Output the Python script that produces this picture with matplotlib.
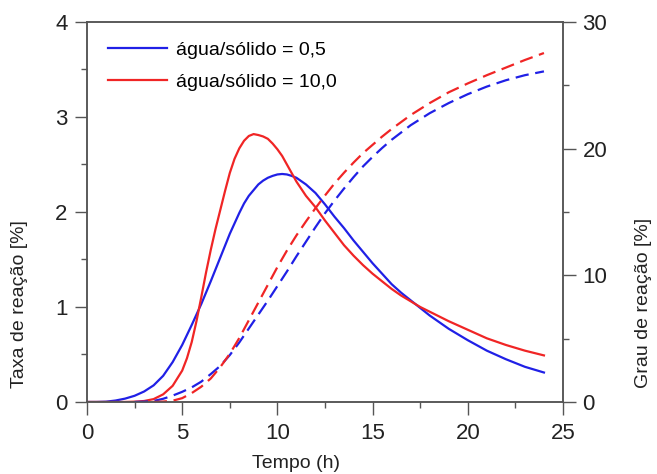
import matplotlib
matplotlib.use("Agg")
import matplotlib.pyplot as plt
from matplotlib.ticker import MultipleLocator

plt.rcParams['font.family'] = ['Liberation Sans', 'DejaVu Sans']

# reaction rate [%] (left axis), solid lines
t_rate_05 = [0, 0.5, 1, 1.5, 2, 2.5, 3, 3.5, 4, 4.5, 5, 5.5, 6, 6.5, 7, 7.5, 8, 8.25, 8.5,
             8.75, 9, 9.25, 9.5, 9.75, 10, 10.25, 10.5, 10.75, 11, 11.5, 12, 12.5, 13, 13.5,
             14, 14.5, 15, 15.5, 16, 16.5, 17, 17.5, 18, 19, 20, 21, 22, 23, 24]
rate_05 = [0, 0, 0.003, 0.015, 0.035, 0.065, 0.11, 0.175, 0.275, 0.42, 0.6, 0.81, 1.03,
           1.27, 1.52, 1.77, 1.99, 2.09, 2.17, 2.23, 2.29, 2.33, 2.36, 2.38, 2.395, 2.40,
           2.395, 2.38, 2.36, 2.29, 2.2, 2.08, 1.95, 1.83, 1.70, 1.58, 1.46, 1.35, 1.24,
           1.15, 1.07, 0.99, 0.91, 0.77, 0.65, 0.54, 0.45, 0.37, 0.31]
t_rate_10 = [0, 2, 2.5, 3, 3.5, 4, 4.5, 5, 5.25, 5.5, 5.75, 6, 6.25, 6.5, 6.75, 7, 7.25,
             7.5, 7.75, 8, 8.25, 8.5, 8.75, 9, 9.25, 9.5, 9.75, 10, 10.25, 10.5, 10.75, 11,
             11.5, 12, 12.5, 13, 13.5, 14, 14.5, 15, 15.5, 16, 16.5, 17, 17.5, 18, 19, 20,
             21, 22, 23, 24]
rate_10 = [0, 0, 0.003, 0.01, 0.03, 0.08, 0.17, 0.33, 0.46, 0.63, 0.85, 1.1, 1.36, 1.6,
           1.82, 2.02, 2.22, 2.41, 2.56, 2.67, 2.75, 2.8, 2.82, 2.81, 2.795, 2.77, 2.72,
           2.66, 2.59, 2.5, 2.41, 2.32, 2.17, 2.05, 1.91, 1.78, 1.65, 1.54, 1.44, 1.35,
           1.27, 1.19, 1.12, 1.06, 1.0, 0.95, 0.85, 0.76, 0.67, 0.6, 0.54, 0.49]

# degree of reaction [%] (right axis), dashed lines
t_deg_05 = [2.5, 3, 3.5, 4, 4.5, 5, 5.5, 6, 6.5, 7, 7.5, 8, 8.5, 9, 9.5, 10, 10.5, 11,
            11.5, 12, 12.5, 13, 13.5, 14, 14.5, 15, 15.5, 16, 17, 18, 19, 20, 21, 22, 23, 24]
deg_05 = [0, 0.02, 0.08, 0.25, 0.5, 0.8, 1.15, 1.6, 2.2, 2.85, 3.7, 4.7, 5.8, 6.9, 8.0,
          9.15, 10.3, 11.5, 12.65, 13.8, 14.9, 15.9, 16.85, 17.75, 18.6, 19.35, 20.05,
          20.7, 21.85, 22.8, 23.6, 24.3, 24.9, 25.4, 25.8, 26.1]
t_deg_10 = [3.5, 4, 4.5, 5, 5.5, 6, 6.5, 7, 7.5, 8, 8.5, 9, 9.5, 10, 10.5, 11, 11.5, 12,
            12.5, 13, 13.5, 14, 14.5, 15, 15.5, 16, 17, 18, 19, 20, 21, 22, 23, 24]
deg_10 = [0, 0.03, 0.1, 0.3, 0.7, 1.2, 1.85, 2.75, 3.8, 5.05, 6.45, 7.85, 9.25, 10.65,
          11.95, 13.15, 14.25, 15.3, 16.3, 17.25, 18.1, 18.9, 19.65, 20.3, 20.95, 21.55,
          22.65, 23.6, 24.45, 25.15, 25.8, 26.4, 27.0, 27.55]

labels = ["água/sólido = 0,5", "água/sólido = 10,0"]
blue = '#2020e6'
red = '#f02525'
spine_col = '#555555'

fig = plt.figure(figsize=(6.57, 4.74), dpi=100)
ax = fig.add_axes([0.1324, 0.152, 0.7245, 0.8016])
ax2 = ax.twinx()

ax.plot(t_rate_05, rate_05, color=blue, lw=1.6, label=labels[0])
ax.plot(t_rate_10, rate_10, color=red, lw=1.6, label=labels[1])
ax2.plot(t_deg_05, deg_05, color=blue, lw=1.6, ls=(0, (6, 3)))
ax2.plot(t_deg_10, deg_10, color=red, lw=1.6, ls=(0, (6, 3)))

ax.set_xlim(0, 25)
ax.set_ylim(0, 4)
ax2.set_ylim(0, 30)

ax.xaxis.set_major_locator(MultipleLocator(5))
ax.xaxis.set_minor_locator(MultipleLocator(2.5))
ax.yaxis.set_major_locator(MultipleLocator(1))
ax.yaxis.set_minor_locator(MultipleLocator(0.5))
ax2.yaxis.set_major_locator(MultipleLocator(10))
ax2.yaxis.set_minor_locator(MultipleLocator(5))

for a in (ax, ax2):
    a.tick_params(which='major', direction='out', length=9, width=1, color=spine_col,
                  labelsize=16, labelcolor='#222222', pad=5)
    a.tick_params(which='minor', direction='out', length=4.5, width=1, color=spine_col)
    for s in a.spines.values():
        s.set_color(spine_col)
        s.set_linewidth(1.1)
ax.tick_params(axis='x', which='major', pad=6)

fig.text(296 / 657, 1 - 463 / 474, "Tempo (h)", ha='center', va='center', fontsize=14,
         color='#222222')
fig.text(20 / 657, 1 - 304 / 474, "Taxa de reação [%]", rotation=90, ha='center',
         va='center', fontsize=14, color='#222222')
fig.text(643 / 657, 1 - 303 / 474, "Grau de reação [%]", rotation=90, ha='center',
         va='center', fontsize=14, color='#222222')

ax.legend(loc='upper left', bbox_to_anchor=(0.012, 0.99), frameon=False, fontsize=14,
          handlelength=3.0, handletextpad=0.5, labelspacing=0.75, borderpad=0.3)

fig.savefig("out.png", dpi=100)
